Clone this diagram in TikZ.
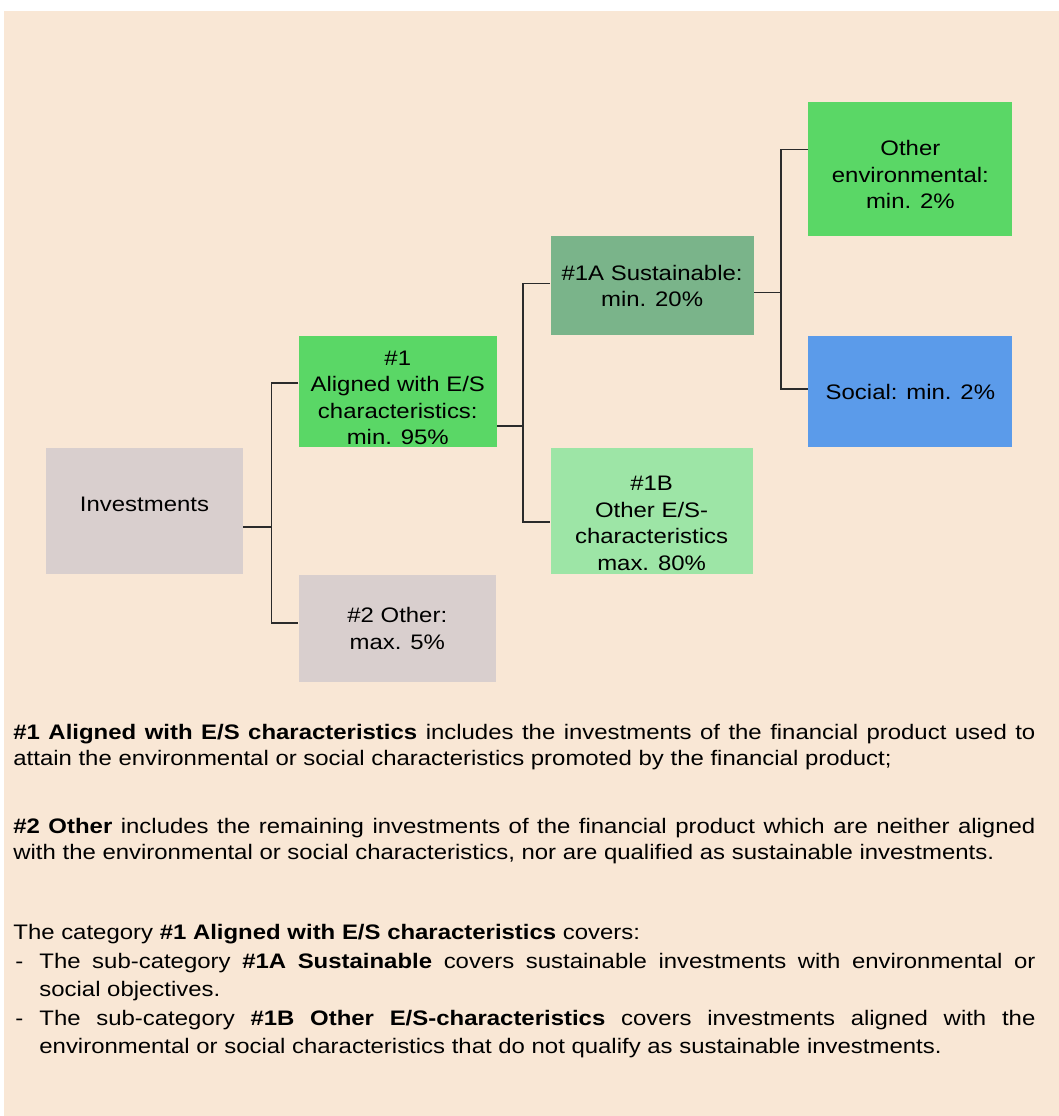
\documentclass[tikz,border=0pt]{standalone}
\usepackage{fontspec}
\setmainfont{Liberation Sans}[FakeStretch=1.14]
\usetikzlibrary{positioning}
\hyphenpenalty=10000
\exhyphenpenalty=10000
\definecolor{peach}{HTML}{F9E7D5}
\definecolor{boxgrey}{HTML}{D9CFCE}
\definecolor{boxgreen}{HTML}{5AD766}
\definecolor{sagegreen}{HTML}{7AB48A}
\definecolor{palegreen}{HTML}{9DE5A6}
\definecolor{socialblue}{HTML}{5B9BEA}
\definecolor{linkgrey}{HTML}{2B2B2B}
\tikzstyle{catbox} = [rectangle, inner sep=1pt, align=center, font=\fontsize{10.5}{13.2}\selectfont]
\tikzstyle{link} = [draw=linkgrey, line width=0.75pt]
\tikzstyle{note} = [anchor=base west, inner sep=0pt, text width=511pt, align=justify, font=\fontsize{10.5}{13}\selectfont]

\begin{document}
\begin{tikzpicture}[x=0.5pt, y=-0.5pt]

\useasboundingbox (0,0) rectangle (1059,1116);
\fill [peach] (4,11) rectangle (1059,1116);

\node (invest) [catbox, fill=boxgrey, minimum width=98.5pt, minimum height=63pt] at (144.5,511) {Investments\rule[-7pt]{0pt}{7pt}};
\node (aligned) [catbox, fill=boxgreen, minimum width=99pt, minimum height=55.5pt, right=27.5pt of invest.north east, anchor=south west] {\rule{0pt}{13.5pt}\#1\\Aligned with E/S\\characteristics:\\min. 95\%};
\node (other) [catbox, fill=boxgrey, minimum width=98.5pt, minimum height=53.5pt, right=27.5pt of invest.south east, anchor=north west] {\#2 Other:\\max. 5\%};
\node (sust) [catbox, fill=sagegreen, minimum width=101.5pt, minimum height=49.5pt, right=26.5pt of aligned.north east, anchor=south west] {\#1A Sustainable:\\min. 20\%};
\node (otheres) [catbox, fill=palegreen, minimum width=101pt, minimum height=63pt, right=26.5pt of aligned.south east, anchor=north west] {\rule{0pt}{19.5pt}\#1B\\Other E/S-\\characteristics\\max. 80\%};
\node (env) [catbox, fill=boxgreen, minimum width=102pt, minimum height=67pt, right=27pt of sust.north east, anchor=south west] {\rule{0pt}{13.5pt}Other\\environmental:\\min. 2\%};
\node (social) [catbox, fill=socialblue, minimum width=102pt, minimum height=55.5pt, right=27pt of sust.south east, anchor=north west] {Social: min. 2\%};

\draw [link] ([yshift=-8pt]invest.east) -- ++(14pt,0) coordinate (fork1);
\draw [link] ([yshift=4.25pt]aligned.west) -| (fork1) |- ([yshift=2.75pt]other.west);
\draw [link] ([yshift=-17.25pt]aligned.east) -- ++(13pt,0) coordinate (fork2);
\draw [link] ([yshift=1.25pt]sust.west) -| (fork2) |- ([yshift=-5.5pt]otheres.west);
\draw [link] ([yshift=-3.25pt]sust.east) -- ++(13.5pt,0) coordinate (fork3);
\draw [link] ([yshift=9.5pt]env.west) -| (fork3) |- ([yshift=1.25pt]social.west);

\node (note1) [note] at (13,739) {\textbf{\#1 Aligned with E/S characteristics} includes the investments of the financial product used to attain the environmental or social characteristics promoted by the financial product;};
\node (note2) [note] at (13,833) {\textbf{\#2 Other} includes the remaining investments of the financial product which are neither aligned with the environmental or social characteristics, nor are qualified as sustainable investments.};
\node (note3) [note, font=\fontsize{10.5}{13.75}\selectfont] at (13,939) {The category \textbf{\#1 Aligned with E/S characteristics} covers:\par\parskip=1pt
\hangindent=13pt\hangafter=1\makebox[13pt][l]{\hspace{1pt}-}The sub-category \textbf{\#1A Sustainable} covers sustainable investments with environmental or social objectives.\par
\hangindent=13pt\hangafter=1\makebox[13pt][l]{\hspace{1pt}-}The sub-category \textbf{\#1B Other E/S-characteristics} covers investments aligned with the environmental or social characteristics that do not qualify as sustainable investments.\par};

\end{tikzpicture}
\end{document}
